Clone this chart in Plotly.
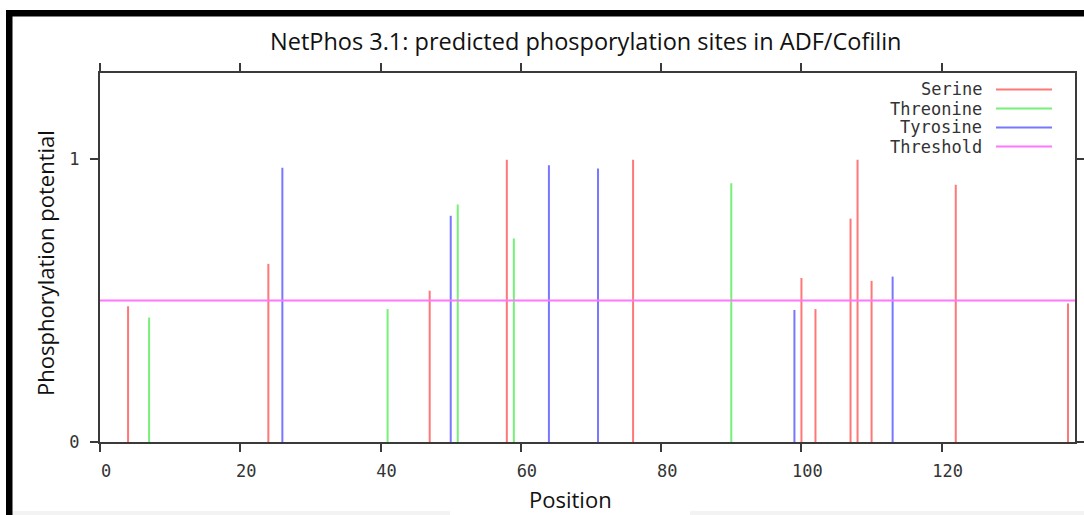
import plotly.graph_objects as go

# ---- data ----
serine_pos = [4, 24, 47, 58, 76, 100, 102, 107, 108, 110, 122, 138]
serine_val = [0.48, 0.63, 0.535, 0.998, 0.998, 0.58, 0.47, 0.79, 0.998, 0.57, 0.91, 0.49]
threonine_pos = [7, 41, 51, 59, 90]
threonine_val = [0.44, 0.47, 0.84, 0.72, 0.915]
tyrosine_pos = [26, 50, 64, 71, 99, 113]
tyrosine_val = [0.97, 0.80, 0.979, 0.967, 0.467, 0.585]
threshold = 0.5
x_ticks = [0, 20, 40, 60, 80, 100, 120]
y_ticks = [0, 1]
seq_len = 139

series = [
    ("Serine", serine_pos, serine_val, "#ff7777"),
    ("Threonine", threonine_pos, threonine_val, "#77f077"),
    ("Tyrosine", tyrosine_pos, tyrosine_val, "#7777ff"),
]

W, H = 1084, 515
L, R, T, B = 100, 9, 73, 73
pw, ph = W - L - R, H - T - B


def px(x):
    return (x - L) / pw


def py(y):
    return (H - B - y) / ph


fig = go.Figure()
for name, pos, val, col in series:
    xs, ys = [], []
    for p, v in zip(pos, val):
        xs += [p, p, None]
        ys += [0, v, None]
    fig.add_trace(go.Scatter(x=xs, y=ys, mode="lines", name=name,
                             line=dict(color=col, width=2), showlegend=False,
                             hoverinfo="skip"))
fig.add_trace(go.Scatter(x=[0, seq_len], y=[threshold, threshold], mode="lines",
                         name="Threshold", line=dict(color="#ff77ff", width=2),
                         showlegend=False))

axcol = "#3a3a3a"
mono = "DejaVu Sans Mono"
common = dict(showline=True, linecolor=axcol, linewidth=2, mirror="ticks",
              ticks="outside", ticklen=8, tickwidth=2, tickcolor=axcol,
              showgrid=False, zeroline=False, automargin=False,
              tickfont=dict(family=mono, size=17, color="#333"))
fig.update_xaxes(range=[0, seq_len], tickvals=x_ticks, ticklabelstandoff=5,
                 ticklabelshift=6, **common)
fig.update_yaxes(range=[0, 1.305], tickvals=y_ticks, ticklabelstandoff=7, **common)

shapes = []
annotations = []
# legend drawn manually (text right-aligned, sample on the right)
leg_rows = [("Serine", "#ff7777"), ("Threonine", "#77f077"),
            ("Tyrosine", "#7777ff"), ("Threshold", "#ff77ff")]
leg_y = [89.5, 108.5, 127.5, 146.5]
for (name, col), yy in zip(leg_rows, leg_y):
    annotations.append(dict(text=name, xref="paper", yref="paper", x=px(983),
                            y=py(yy), xanchor="right", yanchor="middle",
                            showarrow=False, borderpad=0,
                            font=dict(family=mono, size=17, color="#333")))
    shapes.append(dict(type="line", xref="paper", yref="paper", x0=px(996),
                       x1=px(1052), y0=py(yy), y1=py(yy),
                       line=dict(color=col, width=2)))

# titles
sans = "Open Sans"
annotations.append(dict(text="NetPhos 3.1: predicted phosporylation sites in ADF/Cofilin",
                        xref="paper", yref="paper", x=px(586), y=py(41),
                        xanchor="center", yanchor="middle", showarrow=False,
                        font=dict(family=sans, size=23.5, color="#111")))
annotations.append(dict(text="Phosphorylation potential", xref="paper", yref="paper",
                        x=px(45), y=py(263), xanchor="center", yanchor="middle",
                        textangle=-90, showarrow=False,
                        font=dict(family=sans, size=22, color="#111")))
annotations.append(dict(text="Position", xref="paper", yref="paper",
                        x=px(570), y=py(499), xanchor="center", yanchor="middle",
                        showarrow=False, borderpad=0,
                        font=dict(family=sans, size=22, color="#111")))

# screenshot frame: black bars at top and left, light band at bottom
shapes.append(dict(type="rect", xref="paper", yref="paper", x0=px(6), x1=px(W + 5),
                   y0=py(10), y1=py(16.5), fillcolor="black", line=dict(width=0),
                   layer="above"))
shapes.append(dict(type="rect", xref="paper", yref="paper", x0=px(6), x1=px(12.5),
                   y0=py(10), y1=py(H + 5), fillcolor="black", line=dict(width=0),
                   layer="above"))
shapes.append(dict(type="rect", xref="paper", yref="paper", x0=px(12.5), x1=px(450),
                   y0=py(511), y1=py(H + 5), fillcolor="#f3f3f3", line=dict(width=0),
                   layer="below"))
shapes.append(dict(type="rect", xref="paper", yref="paper", x0=px(690), x1=px(W + 5),
                   y0=py(511), y1=py(H + 5), fillcolor="#f3f3f3", line=dict(width=0),
                   layer="below"))

fig.update_layout(width=W, height=H, margin=dict(l=L, r=R, t=T, b=B, autoexpand=False),
                  plot_bgcolor="white", paper_bgcolor="white",
                  shapes=shapes, annotations=annotations, showlegend=False)
fig.write_html("out.html")
